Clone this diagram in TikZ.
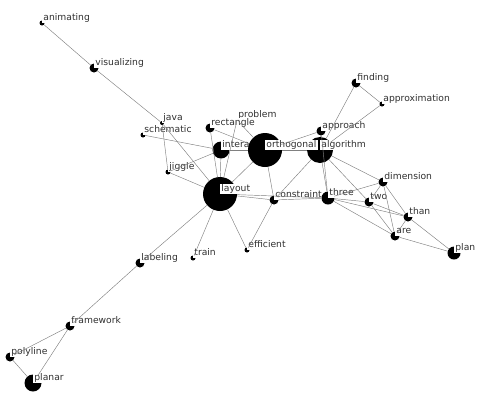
\documentclass[tikz,border=0pt]{standalone}
\usepackage{fontspec}
\usepackage{tikz}
\usetikzlibrary{positioning}
\newfontfamily\lblfont{DejaVu Sans}
\definecolor{edgegray}{HTML}{808080}
\definecolor{txtgray}{HTML}{303030}

\begin{document}
\begin{tikzpicture}[x=1pt,y=-1pt,
  dot/.style={circle,fill=black,inner sep=0pt,minimum size=#1},
  lbl/.style={anchor=south west,fill=white,inner xsep=1.2pt,inner ysep=0.8pt,text height=6.8pt,text depth=1.8pt,
    font=\lblfont\fontsize{9.2}{10}\selectfont,text=txtgray},
  lnk/.style={draw=edgegray,line width=0.45pt}]
\useasboundingbox (0,0) rectangle (479,405);
% word nodes, drawn in order so the labels cut the disks
\node[dot=5pt] (ani) at (42,23) {};
\node[lbl] (ani-l) at (ani.center) {animating};
\node[dot=9pt] (vis) at (94,68) {};
\node[lbl] (vis-l) at (vis.center) {visualizing};
\node[dot=4pt] (jav) at (162,123) {};
\node[lbl] (jav-l) at (jav.center) {java};
\node[dot=5pt] (sch) at (143,135) {};
\node[lbl] (sch-l) at (sch.center) {schematic};
\node[dot=5pt] (jig) at (168,172) {};
\node[lbl] (jig-l) at (jig.center) {jiggle};
\node[dot=4pt] (pro) at (237,120) {};
\node[lbl] (pro-l) at (pro.center) {problem};
\node[dot=9pt] (rec) at (210,128) {};
\node[lbl] (rec-l) at (rec.center) {rectangle};
\node[dot=17pt] (int) at (221,150) {};
\node[lbl] (int-l) at (int.center) {interactive};
\node[dot=26pt] (alg) at (320,150) {};
\node[dot=34pt] (ort) at (265,150) {};
\node[lbl] (ort-l) at (ort.center) {orthogonal};
\node[lbl] (alg-l) at (alg.center) {algorithm};
\node[dot=9pt] (app) at (321,131) {};
\node[lbl] (app-l) at (app.center) {approach};
\node[dot=9pt] (fin) at (356,83) {};
\node[lbl] (fin-l) at (fin.center) {finding};
\node[dot=5pt] (apx) at (382,104) {};
\node[lbl] (apx-l) at (apx.center) {approximation};
\node[dot=34pt] (lay) at (220,194) {};
\node[lbl] (lay-l) at (lay.center) {layout};
\node[dot=9pt] (con) at (274,200) {};
\node[lbl] (con-l) at (con.center) {constraint};
\node[dot=13pt] (thr) at (328,198) {};
\node[lbl] (thr-l) at (thr.center) {three};
\node[dot=9pt] (two) at (369,202) {};
\node[lbl] (two-l) at (two.center) {two};
\node[dot=9pt] (dim) at (383,182) {};
\node[lbl] (dim-l) at (dim.center) {dimension};
\node[dot=9pt] (tha) at (408,217) {};
\node[lbl] (tha-l) at (tha.center) {than};
\node[dot=9pt] (are) at (395,236) {};
\node[lbl] (are-l) at (are.center) {are};
\node[dot=13pt] (pla) at (454,253) {};
\node[lbl] (pla-l) at (pla.center) {plan};
\node[dot=5pt] (eff) at (247,250) {};
\node[lbl] (eff-l) at (eff.center) {efficient};
\node[dot=5pt] (tra) at (193,258) {};
\node[lbl] (tra-l) at (tra.center) {train};
\node[dot=9pt] (lab) at (140,263) {};
\node[lbl] (lab-l) at (lab.center) {labeling};
\node[dot=9pt] (fra) at (70,326) {};
\node[lbl] (fra-l) at (fra.center) {framework};
\node[dot=9pt] (pol) at (10,357) {};
\node[lbl] (pol-l) at (pol.center) {polyline};
\node[dot=17pt] (pln) at (33,383) {};
\node[lbl] (pln-l) at (pln.center) {planar};
% links
\draw[lnk] (ani) -- (vis);
\draw[lnk] (vis) -- (jav);
\draw[lnk] (jav) -- (lay);
\draw[lnk] (jav) -- (jig);
\draw[lnk] (sch) -- (int);
\draw[lnk] (jig) -- (int);
\draw[lnk] (jig) -- (lay);
\draw[lnk] (rec) -- (ort);
\draw[lnk] (rec) -- (lay);
\draw[lnk] (pro) -- (lay);
\draw[lnk] (pro) -- (ort);
\draw[lnk] (int) -- (ort);
\draw[lnk] (int) -- (lay);
\draw[lnk] (ort) -- (alg);
\draw[lnk] (ort) -- (lay);
\draw[lnk] (ort) -- (con);
\draw[lnk] (ort) -- (app);
\draw[lnk] (app) -- (alg);
\draw[lnk] (app) -- (thr);
\draw[lnk] (alg) -- (fin);
\draw[lnk] (alg) -- (apx);
\draw[lnk] (fin) -- (apx);
\draw[lnk] (alg) -- (thr);
\draw[lnk] (alg) -- (con);
\draw[lnk] (alg) -- (dim);
\draw[lnk] (alg) -- (two);
\draw[lnk] (lay) -- (con);
\draw[lnk] (lay) -- (thr);
\draw[lnk] (con) -- (thr);
\draw[lnk] (con) -- (eff);
\draw[lnk] (lay) -- (eff);
\draw[lnk] (lay) -- (tra);
\draw[lnk] (lay) -- (lab);
\draw[lnk] (lab) -- (fra);
\draw[lnk] (fra) -- (pol);
\draw[lnk] (fra) -- (pln);
\draw[lnk] (pol) -- (pln);
\draw[lnk] (thr) -- (dim);
\draw[lnk] (thr) -- (two);
\draw[lnk] (thr) -- (tha);
\draw[lnk] (thr) -- (are);
\draw[lnk] (two) -- (dim);
\draw[lnk] (two) -- (tha);
\draw[lnk] (two) -- (are);
\draw[lnk] (dim) -- (tha);
\draw[lnk] (dim) -- (are);
\draw[lnk] (tha) -- (are);
\draw[lnk] (tha) -- (pla);
\draw[lnk] (are) -- (pla);
\end{tikzpicture}
\end{document}
